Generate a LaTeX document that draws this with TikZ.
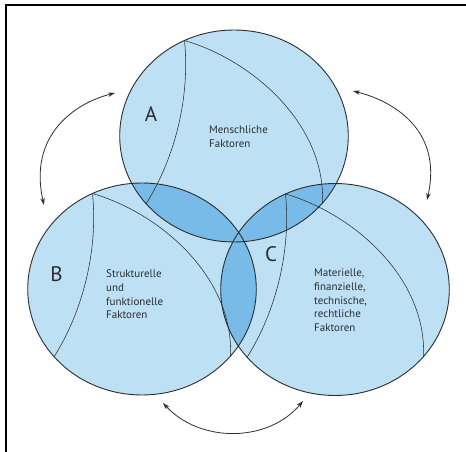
\documentclass[tikz,border=0pt]{standalone}
\usepackage{fontspec}
\setmainfont{PT Sans}
\usetikzlibrary{arrows.meta}
\definecolor{venn}{RGB}{189,224,245}
\definecolor{lens}{RGB}{120,186,232}
\definecolor{ink}{RGB}{45,45,45}
\begin{document}
\begin{tikzpicture}[x=1pt,y=-1pt,
  rim/.style={draw=ink,line width=0.9pt},
  meridian/.style={draw=ink,line width=0.55pt},
  cycle arrow/.style={draw=ink,line width=0.8pt,
    {Stealth[length=7pt,width=4.5pt]}-{Stealth[length=7pt,width=4.5pt]}},
  letter/.style={font=\fontsize{21}{21}\selectfont,text=ink,inner sep=0pt},
  factor/.style={font=\fontsize{11}{13.8}\selectfont,text=ink,align=left,
    inner sep=0pt,anchor=north west}]
\useasboundingbox (0,0) rectangle (466,452);

% frame (left and top edges)
\draw[line width=2pt,black] (6.3,452) -- (6.3,5.5) -- (466,5.5);

% centres of the three circles
\coordinate (cA) at (234,136);
\coordinate (cB) at (142,289);
\coordinate (cC) at (335,289.5);

% light fills
\foreach \c in {cA,cB,cC}
  \fill[venn] (\c) ellipse [x radius=114.3pt, y radius=106pt];

% overlapping lenses
\begin{scope}
  \clip (cA) ellipse [x radius=114.3pt, y radius=106pt];
  \fill[lens] (cB) ellipse [x radius=114.3pt, y radius=106pt];
  \fill[lens] (cC) ellipse [x radius=114.3pt, y radius=106pt];
\end{scope}
\begin{scope}
  \clip (cB) ellipse [x radius=114.3pt, y radius=106pt];
  \fill[lens] (cC) ellipse [x radius=114.3pt, y radius=106pt];
\end{scope}

% meridian lines inside each circle
\foreach \c in {cA,cB,cC}{
  \begin{scope}[shift={(\c)}]
    \draw[meridian] (-49.5,-95.5) .. controls (-44,-40) and (-58,20) .. (-88,68);
    \draw[meridian] (-49.5,-95.5) .. controls (18,-76) and (92,-12) .. (88.5,67.5);
  \end{scope}
}

% outlines
\foreach \c in {cA,cB,cC}
  \draw[rim] (\c) ellipse [x radius=114.3pt, y radius=106pt];

% interaction arrows
\coordinate (tlA) at (115,93);
\coordinate (tlB) at (44,205);
\coordinate (trA) at (353,91);
\coordinate (trB) at (427,200);
\coordinate (bL) at (163,403);
\coordinate (bR) at (303,401);
\draw[cycle arrow] (tlA) .. controls +(-40,10) and +(-16,-70) .. (tlB);
\draw[cycle arrow] (trA) .. controls +(40,10) and +(16,-70) .. (trB);
\draw[cycle arrow] (bL) .. controls +(37,40) and +(-35,42) .. (bR);

% labels
\node[letter] (la) at (151,114) {A};
\node[letter] (lb) at (56.5,274.5) {B};
\node[letter] (lc) at (271,254.5) {C};

\node[factor] (ta) at (209,126) {Menschliche\\Faktoren};
\node[factor] (tb) at (106,269.5) {Strukturelle\\und\\funktionelle\\Faktoren};
\node[factor] (tc) at (314,268.5) {Materielle,\\finanzielle,\\technische,\\rechtliche\\Faktoren};
\end{tikzpicture}
\end{document}
